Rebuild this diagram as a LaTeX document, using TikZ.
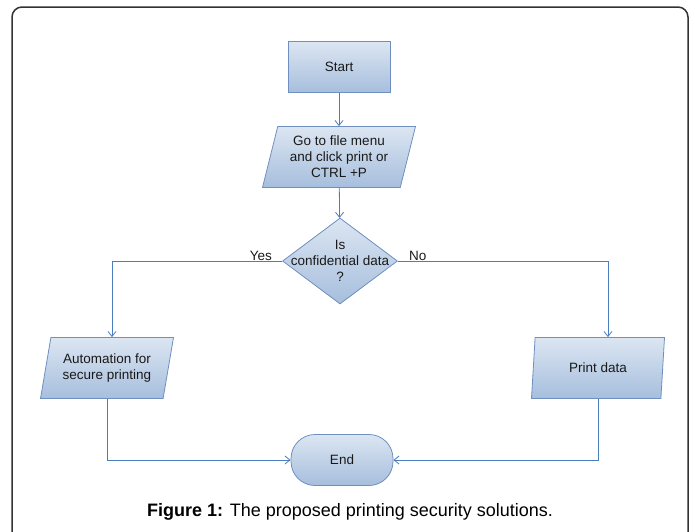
\documentclass[tikz,border=0pt]{standalone}
\usepackage{fontspec}
\setmainfont{Liberation Sans}
\usepackage{tikz}
\usetikzlibrary{
	arrows.meta,
	calc,
	positioning,
	shapes,
	shapes.geometric,
}
\definecolor{boxtop}{HTML}{DCE6F2}
\definecolor{boxbot}{HTML}{A6BEDD}
\definecolor{boxline}{HTML}{6E8FBF}
\definecolor{flowline}{HTML}{4A7EBB}
\tikzset{base box/.style={draw=boxline,thick,top color=boxtop,bottom color=boxbot,font=\fontsize{13.5}{16}\selectfont,text=black!90,align=center,inner sep=0pt,}}
\tikzset{process/.style={base box,rectangle,minimum width=102pt,minimum height=51pt,}}
\tikzset{io/.style={base box,trapezium,trapezium left angle=70,trapezium right angle=110,trapezium stretches body,minimum height=61pt,}}
\tikzset{decision/.style={base box,diamond,minimum width=115pt,minimum height=86pt,}}
\tikzset{terminal/.style={base box,rectangle,rounded corners=24pt,minimum width=102pt,minimum height=51pt,}}
\tikzset{branch/.style={draw=none,fill=none,font=\fontsize{13.5}{16}\selectfont,text=black!90,inner sep=1pt,}}
\tikzset{
	>={Straight Barb[length=5pt,width=8pt]},
	flow/.style={flowline,thick},
}

\begin{document}
\begin{tikzpicture}[x=1pt,y=-1pt]
\useasboundingbox (0,0) rectangle (695,531);
\draw[black!80,line width=1.5pt,rounded corners=10pt] (12,7) rectangle (688,560);

\node[process](start) at(339,67) {Start};
\node[io,minimum width=153pt](menu) at(339,157) {Go to file menu\\and click print or\\CTRL +P};
\node[decision](conf) at(340,261) {};
\node[branch,align=center](conftext) at(conf) {Is\\confidential data\\?};
\node[io,minimum width=133pt](auto) at(107,368) {Automation for\\secure printing};
\node[io,minimum width=133pt](print) at(598,368) {Print data};
\node[terminal](end) at(342,460) {End};

\draw[flow,->] (start) -- (menu);
\draw[flow,->] (menu) -- (conf);
\draw[flow,->] (conf.west) -| ([xshift=5pt]auto.north);
\draw[flow,->] (conf.east) -| ([xshift=10pt]print.north);
\node[branch,anchor=south east](yes) at([xshift=-9pt,yshift=-1pt]conf.west) {Yes};
\node[branch,anchor=south west](no) at([xshift=10pt,yshift=-1pt]conf.east) {No};
\draw[flow,->] (auto.south) |- (end.west);
\draw[flow,->] (print.south) |- (end.east);

\node[branch,font=\fontsize{18}{20}\selectfont,text=black](caption) at(350,512) {\textbf{Figure 1:} The proposed printing security solutions.};

\end{tikzpicture}
\end{document}
